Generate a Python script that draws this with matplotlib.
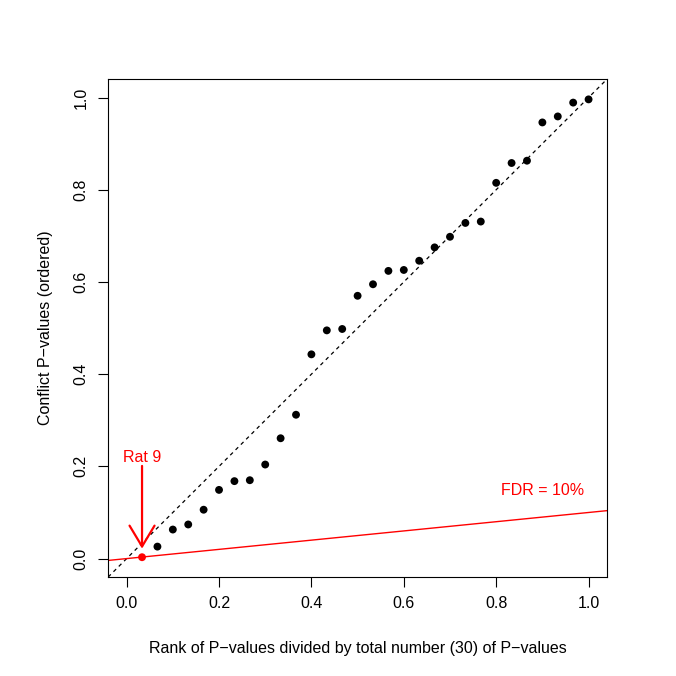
import numpy as np
import matplotlib
matplotlib.use("Agg")
import matplotlib.pyplot as plt

# ordered conflict p-values
p_sorted = [0.003, 0.026, 0.063, 0.074, 0.106, 0.149, 0.168, 0.170, 0.204, 0.261,
            0.312, 0.443, 0.495, 0.498, 0.570, 0.595, 0.624, 0.626, 0.646, 0.675,
            0.698, 0.728, 0.731, 0.815, 0.858, 0.863, 0.946, 0.959, 0.989, 0.996]
n_total = 30
fdr = 0.10
ticks = [0.0, 0.2, 0.4, 0.6, 0.8, 1.0]
tick_labels = ["0.0", "0.2", "0.4", "0.6", "0.8", "1.0"]

rank = np.arange(1, n_total + 1) / n_total

plt.rcParams['font.family'] = ['Liberation Sans', 'DejaVu Sans']
fs = 11.5
fig = plt.figure(figsize=(6.76, 6.76), dpi=100)
ax = fig.add_axes([0.160, 0.1464, 0.738, 0.7366])

ax.set_xlim(-0.04, 1.04)
ax.set_ylim(-0.04, 1.04)

# diagonal and FDR line (abline style, full width)
xx = np.array([-0.04, 1.04])
ax.plot(xx, xx, color='black', linestyle=(0, (3, 3)), linewidth=0.9)
ax.plot(xx, fdr * xx, color='red', linewidth=1.0)

# points: first (below FDR line) in red
cols = ['red'] + ['black'] * (n_total - 1)
ax.scatter(rank, p_sorted, c=cols, s=32, zorder=3, linewidths=0)

# arrow for Rat 9
ax.annotate("", xy=(rank[0], 0.0216), xytext=(rank[0], 0.201),
            arrowprops=dict(arrowstyle='->,head_length=1.5,head_width=0.9',
                            color='red', linewidth=1.6, shrinkA=0, shrinkB=0))
ax.text(rank[0], 0.22, "Rat 9", color='red', ha='center', va='center', fontsize=fs)
ax.text(0.90, 0.147, "FDR = 10%", color='red', ha='center', va='center', fontsize=fs)

ax.set_xticks(ticks)
ax.set_xticklabels(tick_labels, fontsize=fs)
ax.set_yticks(ticks)
ax.set_yticklabels(tick_labels, fontsize=fs, rotation=90, va='center')
ax.tick_params(direction='out', length=7, width=0.8, pad=7)

for s in ax.spines.values():
    s.set_linewidth(0.8)

ax.set_xlabel("Rank of P\u2212values divided by total number (30) of P\u2212values",
              fontsize=fs, labelpad=21)
ax.set_ylabel("Conflict P\u2212values (ordered)", fontsize=fs, labelpad=15)

fig.savefig("out.png", dpi=100)
